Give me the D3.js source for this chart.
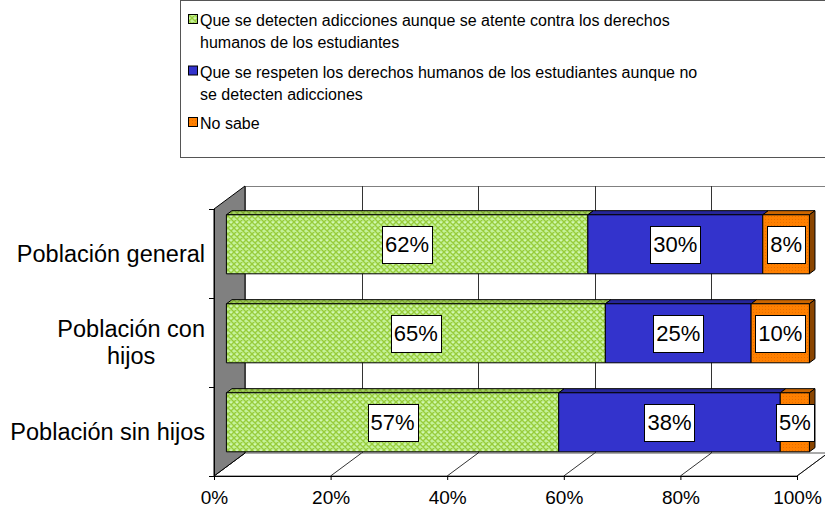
<!DOCTYPE html>
<html lang="es">
  <head>
    <meta charset="UTF-8" />
    <title>Detección de adicciones y derechos humanos</title>
    <script src="https://d3js.org/d3.v7.min.js"></script>
    <style>
      body { margin: 0; background: #fff; }
      svg { display: block; font-family: Arial, "Liberation Sans", sans-serif; }
    </style>
  </head>
  <body>
    <svg width="825" height="512"></svg>
    <script>
      // data
      const categories = ["Población general", "Población con\nhijos", "Población sin hijos"];
      const seriesKeys = ["detecten", "respeten", "noSabe"];
      const seriesLines = [
        ["Que se detecten adicciones aunque se atente contra los derechos", "humanos de los estudiantes"],
        ["Que se respeten los derechos humanos de los estudiantes aunque no", "se detecten adicciones"],
        ["No sabe"]
      ];
      const detecten = [62, 65, 57];
      const respeten = [30, 25, 38];
      const noSabe = [8, 10, 5];
      const xTicks = [0, 20, 40, 60, 80, 100];

      const svg = d3.select("svg");

      // patterns for the fills
      const defs = svg.append("defs");
      function hatch(id, bg, stroke, dots) {
        const p = defs.append("pattern").attr("id", id)
          .attr("width", 6).attr("height", 6).attr("patternUnits", "userSpaceOnUse");
        p.append("rect").attr("width", 6).attr("height", 6).attr("fill", bg);
        p.append("path").attr("d", "M0,0L6,6M6,0L0,6M-1,5L1,7M5,-1L7,1")
          .attr("stroke", stroke).attr("stroke-width", 1.3);
        if (dots) p.append("circle").attr("cx", 3).attr("cy", 0).attr("r", 0.8).attr("fill", dots);
      }
      hatch("greenFront", "#c4f299", "#98cc3c", "#e6ffd6");
      hatch("greenTop", "#a3d064", "#80ac30");
      const op = defs.append("pattern").attr("id", "orangeFront")
        .attr("width", 3).attr("height", 3).attr("patternUnits", "userSpaceOnUse");
      op.append("rect").attr("width", 3).attr("height", 3).attr("fill", "#ff8000");
      op.append("rect").attr("width", 1).attr("height", 1).attr("fill", "#e86f00");

      const fronts = { detecten: "url(#greenFront)", respeten: "#3333cc", noSabe: "url(#orangeFront)" };
      const tops = { detecten: "url(#greenTop)", respeten: "#262699", noSabe: "#cc6600" };
      const sideColor = "#8a4500";

      // 3D box geometry
      const box = { left: 214, right: 797, top: 209, bottom: 476 };
      const depth = [31, -23];
      const z0 = 0.4, z1 = 0.58;

      const x = d3.scaleLinear().domain([0, 100]).range([box.left, box.right]);
      const y = d3.scaleBand().domain(categories).range([box.top, box.bottom])
        .paddingInner(0.337).paddingOuter(0.1685);

      function P(px, py, z) {
        return [px + z * depth[0], py + z * depth[1]];
      }
      const line = d3.line();

      // back wall + gridlines
      const bw0 = P(x(0), box.top, 1), bw1 = P(x(100), box.bottom, 1);
      svg.append("rect")
        .attr("x", bw0[0] + 0.5).attr("y", bw0[1] + 0.5)
        .attr("width", bw1[0] - bw0[0]).attr("height", bw1[1] - bw0[1])
        .attr("fill", "#fff").attr("stroke", "#808080");
      svg.append("g").selectAll("line").data(xTicks.slice(1)).join("line")
        .attr("x1", d => Math.round(P(x(d), box.top, 1)[0]) + 0.5)
        .attr("x2", d => Math.round(P(x(d), box.top, 1)[0]) + 0.5)
        .attr("y1", bw0[1]).attr("y2", bw1[1])
        .attr("stroke", "#333");

      // floor
      svg.append("path")
        .attr("d", line([P(x(0), box.bottom, 0), P(x(100), box.bottom, 0), P(x(100), box.bottom, 1), P(x(0), box.bottom, 1)]) + "Z")
        .attr("fill", "#fff").attr("stroke", "#555");
      svg.append("g").selectAll("path").data(xTicks).join("path")
        .attr("d", d => line([P(x(d), box.bottom, 0), P(x(d), box.bottom, 1)]))
        .attr("stroke", "#000").attr("stroke-width", 0.8);

      // left wall
      svg.append("path")
        .attr("d", line([P(x(0), box.top, 0), P(x(0), box.top, 1), P(x(0), box.bottom, 1), P(x(0), box.bottom, 0)]) + "Z")
        .attr("fill", "#808080").attr("stroke", "#000");

      // axes
      svg.append("g")
        .attr("transform", `translate(0,${box.bottom})`)
        .call(d3.axisBottom(x).tickValues(xTicks).tickFormat(d => d + "%").tickSize(4).tickSizeOuter(0).tickPadding(11))
        .call(g => g.selectAll("text").attr("font-size", 19).attr("fill", "#000"))
        .call(g => g.attr("font-family", null).selectAll("line,path").attr("stroke", "#000"));

      const bounds = d3.range(categories.length + 1).map(i => box.top + i * y.step());
      svg.append("g").selectAll("line").data(bounds).join("line")
        .attr("x1", box.left - 5).attr("x2", box.left)
        .attr("y1", d => Math.round(d) + 0.5).attr("y2", d => Math.round(d) + 0.5)
        .attr("stroke", "#000");
      svg.append("line")
        .attr("x1", box.left + 0.5).attr("x2", box.left + 0.5).attr("y1", box.top).attr("y2", box.bottom)
        .attr("stroke", "#000");

      // category labels
      const catG = svg.append("g").attr("font-size", 23.5);
      categories.forEach(c => {
        const lines = c.split("\n");
        const cy = y(c) + y.bandwidth() / 2;
        const t = catG.append("text").attr("text-anchor", "middle");
        lines.forEach((l, i) => {
          t.append("tspan").attr("x", 0)
            .attr("y", cy + 8 + (i - (lines.length - 1) / 2) * 27)
            .text(l);
        });
        const w = d3.max(t.selectAll("tspan").nodes(), n => n.getComputedTextLength());
        t.selectAll("tspan").attr("x", 205 - w / 2);
      });

      // stacked 3D bars
      const rows = categories.map((c, i) => ({ cat: c, detecten: detecten[i], respeten: respeten[i], noSabe: noSabe[i] }));
      const stacked = d3.stack().keys(seriesKeys)(rows);
      const segs = [];
      stacked.forEach(s => s.forEach(d => segs.push({ key: s.key, cat: d.data.cat, v0: d[0], v1: d[1], last: s.index == seriesKeys.length - 1 })));

      const barG = svg.append("g").attr("stroke", "#000").attr("stroke-width", 1).attr("stroke-linejoin", "round");
      barG.selectAll("path.top").data(segs).join("path").attr("class", "top")
        .attr("d", d => line([P(x(d.v0), y(d.cat), z0), P(x(d.v1), y(d.cat), z0), P(x(d.v1), y(d.cat), z1), P(x(d.v0), y(d.cat), z1)]) + "Z")
        .attr("fill", d => tops[d.key]);
      barG.selectAll("path.side").data(segs.filter(d => d.last)).join("path").attr("class", "side")
        .attr("d", d => line([P(x(d.v1), y(d.cat), z0), P(x(d.v1), y(d.cat), z1), P(x(d.v1), y(d.cat) + y.bandwidth(), z1), P(x(d.v1), y(d.cat) + y.bandwidth(), z0)]) + "Z")
        .attr("fill", sideColor);
      barG.selectAll("rect").data(segs).join("rect")
        .attr("x", d => P(x(d.v0), 0, z0)[0])
        .attr("y", d => P(0, y(d.cat), z0)[1])
        .attr("width", d => x(d.v1) - x(d.v0))
        .attr("height", y.bandwidth())
        .attr("fill", d => fronts[d.key]);

      // value labels
      const labG = svg.append("g").attr("font-size", 22);
      segs.forEach(d => {
        const c = P((x(d.v0) + x(d.v1)) / 2, y(d.cat) + y.bandwidth() / 2, z0);
        const g = labG.append("g");
        const r = g.append("rect").attr("fill", "#fff").attr("stroke", "#000");
        const t = g.append("text").attr("text-anchor", "middle")
          .attr("x", c[0]).attr("y", c[1] + 8).text(Math.round(d.v1 - d.v0) + "%");
        const w = t.node().getComputedTextLength() + 6;
        r.attr("x", Math.round(c[0] - w / 2) + 0.5).attr("y", Math.round(c[1] - 18) + 0.5)
          .attr("width", Math.round(w)).attr("height", 37);
      });

      // legend
      svg.append("rect").attr("x", 180.5).attr("y", 0.5).attr("width", 700).attr("height", 157)
        .attr("fill", "#fff").attr("stroke", "#555");
      const legG = svg.append("g").attr("font-size", 16);
      let base = 26;
      seriesKeys.forEach((k, i) => {
        legG.append("rect").attr("x", 188.5).attr("y", base - 11.5).attr("width", 9).attr("height", 9)
          .attr("fill", fronts[k]).attr("stroke", "#000");
        seriesLines[i].forEach((l, j) => {
          legG.append("text").attr("x", 200).attr("y", base + j * 22).text(l);
        });
        base += (seriesLines[i].length - 1) * 22 + 29.5;
      });
    </script>
  </body>
</html>
